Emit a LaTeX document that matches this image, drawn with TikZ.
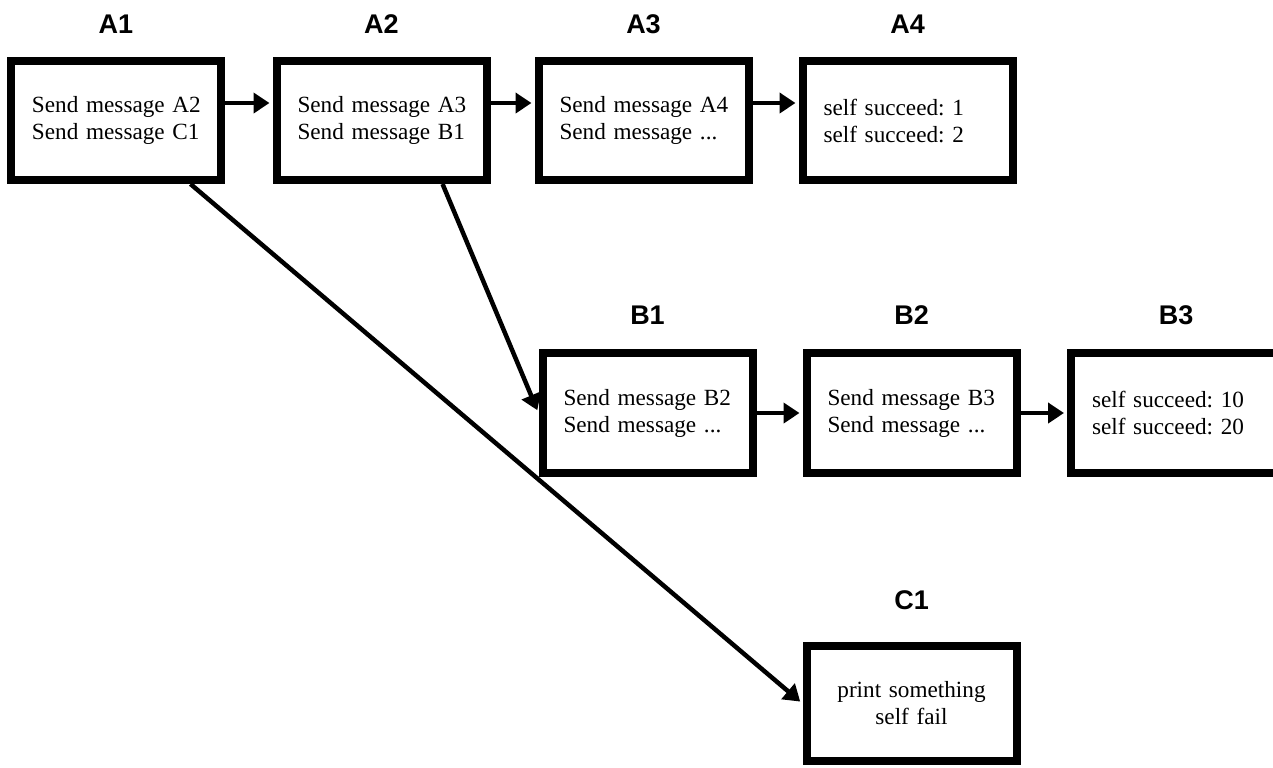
\documentclass[tikz,border=0pt]{standalone}
\usepackage{fontspec}
\setmainfont{Liberation Serif}
\newfontfamily\labfont{Liberation Sans}
\usetikzlibrary{arrows.meta,calc}
\frenchspacing
\begin{document}
\begin{tikzpicture}[x=0.5pt,y=-0.5pt,
  box/.style={draw, line width=4pt, rectangle, minimum width=105pt, minimum height=59.5pt,
    inner xsep=10.5pt, inner ysep=0pt, text width=84pt, align=left,
    font=\fontsize{11.6}{13.5}\selectfont\frenchspacing},
  lab/.style={font=\labfont\bfseries\fontsize{13.5}{14}\selectfont, inner sep=0pt},
  conn/.style={line width=2.25pt, -{Triangle[length=8pt,width=10pt]}, shorten >=1.5pt}]
\clip (0,0) rectangle (1273,767);
\fill[white] (0,0) rectangle (1273,767);

% boxes
\node[box] (A1) at (116,120.5) {\mbox{Send message A2}\\\mbox{Send message C1}};
\node[box] (A2) at (381.5,120.5) {\mbox{Send message A3}\\\mbox{Send message B1}};
\node[box] (A3) at (643.5,120.5) {\mbox{Send message A4}\\\mbox{Send message ...}};
\node[box] (A4) at (907.5,120.5) {\mbox{self succeed: 1}\\\mbox{self succeed: 2}};
\node[box, minimum height=60pt] (B1) at (647.5,413) {\mbox{Send message B2}\\\mbox{Send message ...}};
\node[box, minimum height=60pt] (B2) at (911.5,413) {\mbox{Send message B3}\\\mbox{Send message ...}};
\node[box, minimum height=60pt] (B3) at (1176,413) {\mbox{self succeed: 10}\\\mbox{self succeed: 20}};
\node[box, minimum height=57.5pt, align=center] (C1) at (911.5,703.5) {\mbox{print something}\\\mbox{self fail}};

% labels
\node[lab] (lA1) at ([yshift=16.5pt]A1.north) {A1};
\node[lab] (lA2) at ([yshift=16.5pt]A2.north) {A2};
\node[lab] (lA3) at ([yshift=16.5pt]A3.north) {A3};
\node[lab] (lA4) at ([yshift=16.5pt]A4.north) {A4};
\node[lab] (lB1) at ([yshift=17pt]B1.north) {B1};
\node[lab] (lB2) at ([yshift=17pt]B2.north) {B2};
\node[lab] (lB3) at ([yshift=17pt]B3.north) {B3};
\node[lab] (lC1) at ([yshift=21pt]C1.north) {C1};

% connectors
\draw[conn] ([yshift=8.75pt]A1.east) -- ([yshift=8.75pt]A2.west);
\draw[conn] ([yshift=8.75pt]A2.east) -- ([yshift=8.75pt]A3.west);
\draw[conn] ([yshift=8.75pt]A3.east) -- ([yshift=8.75pt]A4.west);
\draw[conn] (B1.east) -- (B2.west);
\draw[conn] (B2.east) -- (B3.west);
\draw[conn] ($(A2.south west)!0.78!(A2.south east)$) -- (B1.west);
\draw[conn] (A1) -- (C1.west);
\end{tikzpicture}
\end{document}
